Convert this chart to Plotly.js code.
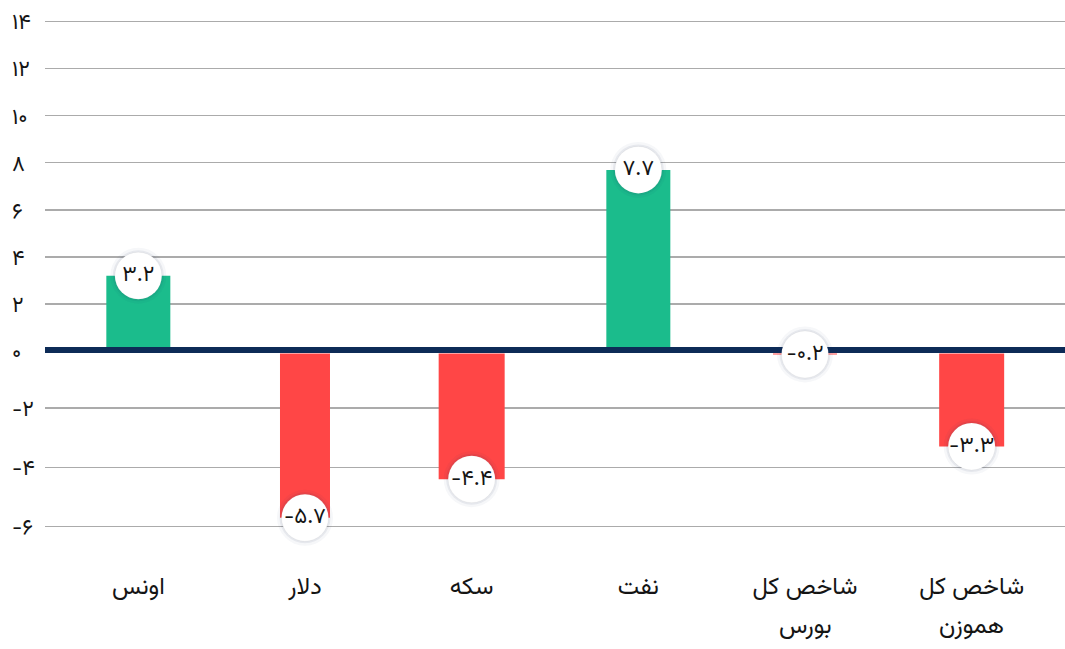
<!DOCTYPE html>
<html>
<head>
<meta charset="utf-8">
<script src="https://cdn.plot.ly/plotly-3.0.1.min.js"></script>
<style>
html, body { margin: 0; padding: 0; background: #ffffff; }
#chart { width: 1065px; height: 649px; }
</style>
</head>
<body>
<div id="chart"></div>
<script>
// ---- data ----
const categories = ['اونس', 'دلار', 'سکه', 'نفت', 'شاخص کل بورس', 'شاخص کل هموزن'];
const labelLine1 = ['اونس', 'دلار', 'سکه', 'نفت', 'شاخص کل', 'شاخص کل'];
const labelLine2 = ['', '', '', '', 'بورس', 'هموزن'];
const values = [3.2, -5.7, -4.4, 7.7, -0.2, -3.3];
const posTickVals = [0, 2, 4, 6, 8, 10, 12, 14];
const negTickVals = [-2, -4, -6];

// ---- helpers ----
const FA_DIGITS = ['۰','۱','۲','۳','۴','۵','۶','۷','۸','۹'];
function toFa(s) { return String(s).replace(/[0-9]/g, d => FA_DIGITS[+d]); }

const valueLabels = values.map(v => toFa(v.toFixed(1)));
const posTickText = posTickVals.map(v => toFa(v));
const negTickText = negTickVals.map(v => toFa(v));

const posVals = values.map(v => (v > 0 ? v : null));
const negVals = values.map(v => (v < 0 ? v : null));
const posText = values.map((v, i) => (v > 0 ? valueLabels[i] : ''));
const negText = values.map((v, i) => (v < 0 ? valueLabels[i] : ''));

const GREEN = '#1bbc8c';
const RED = '#ff4646';
const NAVY = '#0d2b57';
const INK = '#141414';
const FONT = "Vazirmatn, 'DejaVu Sans', 'Noto Sans', sans-serif";
const barWidths = [0.384, 0.30, 0.396, 0.384, 0.384, 0.39];
const XRANGE = [-0.56, 5.56];
const LABEL_SIZE = 24;

function circleTraces(yv, txt, xa, ya) {
  return [
    { type: 'scatter', mode: 'markers', x: categories, y: yv, xaxis: xa, yaxis: ya,
      marker: { size: 56, color: 'rgba(30,45,90,0.04)' }, cliponaxis: false, hoverinfo: 'skip' },
    { type: 'scatter', mode: 'markers', x: categories, y: yv, xaxis: xa, yaxis: ya,
      marker: { size: 51, color: 'rgba(30,45,90,0.07)' }, cliponaxis: false, hoverinfo: 'skip' },
    { type: 'scatter', mode: 'markers+text', x: categories, y: yv, xaxis: xa, yaxis: ya,
      text: txt, textposition: 'middle center',
      textfont: { family: FONT, size: 22, color: INK },
      marker: { size: 47, color: '#ffffff', line: { width: 0.6, color: 'rgba(0,0,0,0.08)' } },
      cliponaxis: false, hoverinfo: 'skip' }
  ];
}

const data = [
  { type: 'bar', x: categories, y: posVals, xaxis: 'x', yaxis: 'y',
    width: barWidths, marker: { color: GREEN }, hoverinfo: 'skip' },
  ...circleTraces(posVals, posText, 'x', 'y'),
  { type: 'bar', x: categories, y: negVals, xaxis: 'x2', yaxis: 'y2',
    width: barWidths, marker: { color: RED }, hoverinfo: 'skip' },
  ...circleTraces(negVals, negText, 'x2', 'y2')
];

// second line of the two-line category labels
const secondLineAnnotations = categories
  .map((c, i) => ({ c: c, t: labelLine2[i] }))
  .filter(o => o.t)
  .map(o => ({
    x: o.c, xref: 'x', y: 0, yref: 'paper', yanchor: 'top', xanchor: 'center',
    yshift: -51, text: o.t, showarrow: false,
    font: { family: FONT, size: LABEL_SIZE, color: INK }
  }));

const gridStyle = { showgrid: true, gridcolor: '#ababab', gridwidth: 1.3, zeroline: false, showline: false };
const yTickFont = { family: FONT, size: 22, color: INK };

const layout = {
  width: 1065, height: 649,
  margin: { l: 8, r: 0, t: 3, b: 94 },
  paper_bgcolor: '#ffffff', plot_bgcolor: 'rgba(0,0,0,0)',
  showlegend: false,
  font: { family: FONT, color: INK },
  // positive panel x axis: carries the first line of the category labels at the bottom
  xaxis: {
    type: 'category', domain: [0.035, 1], range: XRANGE, anchor: 'free', position: 0, side: 'bottom',
    showgrid: false, zeroline: false, showline: false, ticks: '',
    tickmode: 'array', tickvals: categories, ticktext: labelLine1,
    tickfont: { family: FONT, size: LABEL_SIZE, color: INK },
    ticklabelstandoff: 14, fixedrange: true
  },
  // negative panel x axis: its top line is the thick zero line
  xaxis2: {
    type: 'category', domain: [0.035, 1], range: XRANGE, anchor: 'y2', side: 'top', matches: 'x',
    showgrid: false, zeroline: false, showline: true, linecolor: NAVY, linewidth: 6,
    layer: 'below traces', showticklabels: false, ticks: '', fixedrange: true
  },
  yaxis: Object.assign({
    domain: [0.33152, 1], range: [-0.893, 14.796], anchor: 'free', position: 0,
    tickmode: 'array', tickvals: posTickVals, ticktext: posTickText,
    ticklabelposition: 'inside', ticks: '', tickfont: yTickFont, fixedrange: true
  }, gridStyle),
  yaxis2: Object.assign({
    domain: [0, 0.36504], range: [-6.953, -0.168], anchor: 'free', position: 0,
    tickmode: 'array', tickvals: negTickVals, ticktext: negTickText,
    ticklabelposition: 'inside', ticks: '', tickfont: yTickFont, fixedrange: true
  }, gridStyle),
  annotations: secondLineAnnotations
};

Plotly.newPlot('chart', data, layout, { displayModeBar: false, staticPlot: true });
</script>
</body>
</html>
